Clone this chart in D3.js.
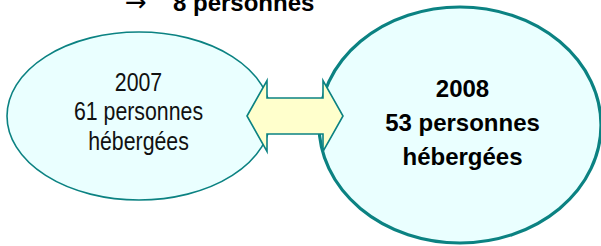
<!DOCTYPE html>
<html>
<head>
<meta charset="utf-8">
<script src="https://cdn.jsdelivr.net/npm/d3@7"></script>
<style>
  html, body { margin: 0; padding: 0; background: #fff; }
  svg { display: block; }
</style>
</head>
<body>
<svg id="chart" width="601" height="246"></svg>
<script>
// data
const years = ["2007", "2008"];
const hosted = [61, 53];
const unitLabel = "personnes";
const hostedLabel = "hébergées";
const diff = hosted[0] - hosted[1];

const W = 601, H = 246;
const teal = "#0b8282", cyan = "#eaffff", yellow = "#ffffcc";

const svg = d3.select("#chart");
svg.selectAll("*").remove();

// Difference line at top (cut by the frame)
svg.append("text")
  .attr("x", 125).attr("y", 11)
  .style("font-family", "DejaVu Sans,sans-serif").style("font-size", "26px")
  .style("fill", "#000")
  .text("→");
svg.append("text")
  .attr("x", 173).attr("y", 11)
  .style("font-family", "Liberation Sans,Arial,sans-serif").style("font-size", "24px").style("font-weight", "bold")
  .style("fill", "#000")
  .text(`${diff} ${unitLabel}`);

// Ellipses
const shapes = [
  { cx: 139, cy: 116, rx: 132, ry: 84, sw: 1.6 },
  { cx: 460, cy: 125, rx: 141, ry: 118, sw: 3.2 }
];

// right one first, then left, then arrow on top
[1, 0].forEach(i => {
  const s = shapes[i];
  svg.append("ellipse")
    .attr("cx", s.cx).attr("cy", s.cy).attr("rx", s.rx).attr("ry", s.ry)
    .attr("fill", cyan).attr("stroke", teal).attr("stroke-width", s.sw);
});

// double arrow
const ax = d3.scaleLinear().domain([0, 1]).range([247, 343]);
const cyA = 116, headH = 35.5, shaftH = 18, headW = 20;
const x0 = ax(0), x1 = ax(1);
const arrowPts = [
  [x0, cyA],
  [x0 + headW, cyA - headH],
  [x0 + headW, cyA - shaftH],
  [x1 - headW, cyA - shaftH],
  [x1 - headW, cyA - headH],
  [x1, cyA],
  [x1 - headW, cyA + headH],
  [x1 - headW, cyA + shaftH],
  [x0 + headW, cyA + shaftH],
  [x0 + headW, cyA + headH]
];
svg.append("path")
  .attr("d", d3.line()(arrowPts) + "Z")
  .attr("fill", yellow).attr("stroke", teal).attr("stroke-width", 1.6)
  .attr("stroke-linejoin", "miter");

// left label (narrow face)
const sx = 0.82;
const gl = svg.append("g").attr("transform", `scale(${sx},1)`);
const leftLines = [years[0], `${hosted[0]} ${unitLabel}`, hostedLabel];
gl.selectAll("text").data(leftLines).join("text")
  .attr("x", 138.5 / sx)
  .attr("y", (d, i) => 91 + i * 29.5)
  .attr("text-anchor", "middle")
  .style("font-family", "Liberation Sans Narrow,Liberation Sans,Arial,sans-serif")
  .style("font-size", "26px").style("fill", "#111")
  .text(d => d);

// right label (bold)
const rightLines = [years[1], `${hosted[1]} ${unitLabel}`, hostedLabel];
svg.append("g").selectAll("text").data(rightLines).join("text")
  .attr("x", 462.5)
  .attr("y", (d, i) => 97 + i * 34.2)
  .attr("text-anchor", "middle")
  .style("font-family", "Liberation Sans,Arial,sans-serif")
  .style("font-size", "24px").style("font-weight", "bold").style("fill", "#000")
  .text(d => d);
</script>
</body>
</html>
